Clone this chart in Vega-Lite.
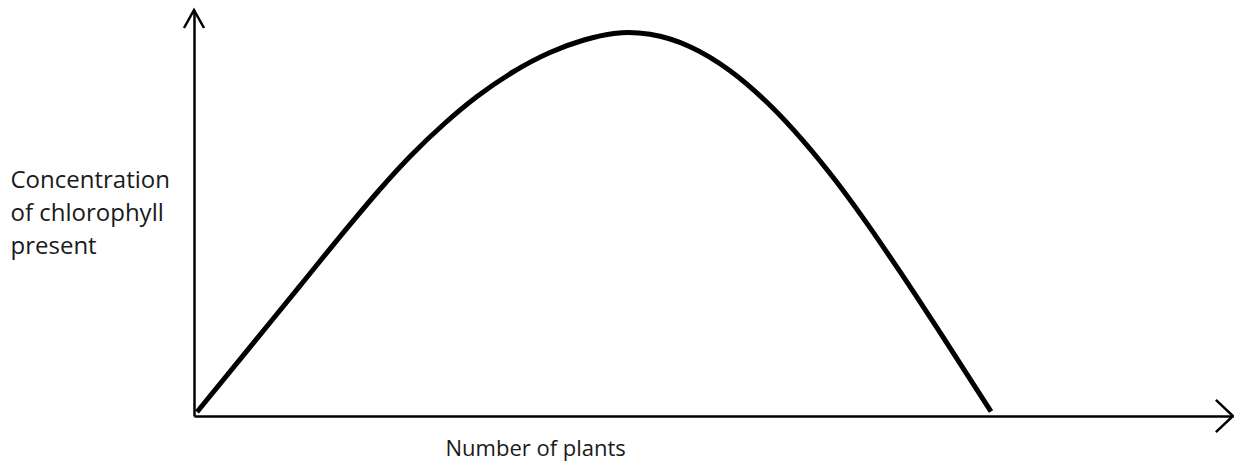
{
  "$schema": "https://vega.github.io/schema/vega-lite/v6.json",
  "autosize": "none",
  "width": 1039,
  "height": 406,
  "padding": {"left": 194, "top": 10, "right": 1, "bottom": 49},
  "background": "white",
  "config": {
    "view": {"stroke": null},
    "axis": {
      "domainColor": "black",
      "domainWidth": 2.5,
      "ticks": false,
      "labels": false,
      "grid": false,
      "titleFont": "Open Sans",
      "titleFontWeight": 400,
      "titleColor": "#1a1a1a"
    }
  },
  "datasets": {
    "curve": [
      {"plants": 0.29, "chlorophyll": 0.99},
      {"plants": 5.39, "chlorophyll": 16.97},
      {"plants": 10.2, "chlorophyll": 32.07},
      {"plants": 15.01, "chlorophyll": 47.14},
      {"plants": 17.71, "chlorophyll": 55.3},
      {"plants": 20.79, "chlorophyll": 63.92},
      {"plants": 24.06, "chlorophyll": 71.92},
      {"plants": 27.24, "chlorophyll": 78.69},
      {"plants": 30.7, "chlorophyll": 84.73},
      {"plants": 34.26, "chlorophyll": 89.53},
      {"plants": 37.54, "chlorophyll": 92.61},
      {"plants": 40.42, "chlorophyll": 94.21},
      {"plants": 41.77, "chlorophyll": 94.46},
      {"plants": 43.89, "chlorophyll": 94.01},
      {"plants": 47.74, "chlorophyll": 90.96},
      {"plants": 51.59, "chlorophyll": 85.05},
      {"plants": 55.44, "chlorophyll": 76.53},
      {"plants": 58.61, "chlorophyll": 67.83},
      {"plants": 61.69, "chlorophyll": 58.18},
      {"plants": 64.58, "chlorophyll": 48.13},
      {"plants": 67.95, "chlorophyll": 35.54},
      {"plants": 71.8, "chlorophyll": 20.57},
      {"plants": 76.71, "chlorophyll": 1.11}
    ],
    "arrows": [
      {"plants": 0, "chlorophyll": 100, "dir": "up"},
      {"plants": 100, "chlorophyll": 0, "dir": "right"}
    ]
  },
  "layer": [
    {
      "data": {"name": "curve"},
      "mark": {"type": "line", "color": "black", "strokeWidth": 5, "interpolate": "monotone", "strokeCap": "butt"},
      "encoding": {
        "x": {
          "field": "plants", "type": "quantitative",
          "scale": {"domain": [0, 100], "nice": false, "zero": false},
          "axis": {
            "title": "Number of plants",
            "titleFontSize": 22,
            "titleAnchor": "start",
            "titleAlign": "left",
            "titleX": 251,
            "titleY": 39,
            "titleBaseline": "alphabetic"
          }
        },
        "y": {
          "field": "chlorophyll", "type": "quantitative",
          "scale": {"domain": [0, 100], "nice": false, "zero": false},
          "axis": {
            "title": ["Concentration", "of chlorophyll", "present"],
            "titleFontSize": 24,
            "titleAngle": 0,
            "titleAlign": "left",
            "titleAnchor": "start",
            "titleX": -184,
            "titleY": 177,
            "titleBaseline": "alphabetic",
            "titleLineHeight": 33
          }
        }
      }
    },
    {
      "data": {"name": "arrows"},
      "mark": {"type": "point", "filled": false, "color": "black", "strokeWidth": 2.5, "size": 1296, "opacity": 1},
      "encoding": {
        "x": {"field": "plants", "type": "quantitative"},
        "y": {"field": "chlorophyll", "type": "quantitative"},
        "shape": {
          "field": "dir", "type": "nominal",
          "scale": {"domain": ["up", "right"], "range": ["M-0.556,1L0,0L0.556,1", "M-0.95,-0.9L0,0L-0.95,0.9"]},
          "legend": null
        }
      }
    }
  ]
}
